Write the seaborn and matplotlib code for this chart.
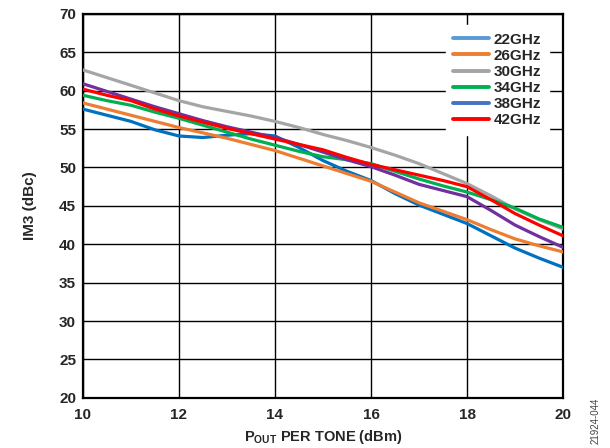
import numpy as np
import pandas as pd
import seaborn as sns
import matplotlib.pyplot as plt
from matplotlib.lines import Line2D

p_out = [10, 10.5, 11, 11.5, 12, 12.5, 13, 13.5, 14, 14.5, 15,
         15.5, 16, 16.5, 17, 17.5, 18, 18.5, 19, 19.5, 20]

im3_22 = [57.6, 56.8, 56.0, 54.9, 54.1, 53.9, 54.2, 54.4, 54.1, 52.6, 50.9,
          49.5, 48.3, 46.6, 45.1, 43.9, 42.7, 41.1, 39.5, 38.2, 37.0]
im3_26 = [58.4, 57.6, 56.8, 56.0, 55.2, 54.5, 53.8, 53.0, 52.2, 51.2, 50.2,
          49.2, 48.2, 46.8, 45.4, 44.3, 43.2, 41.9, 40.7, 39.8, 39.0]
im3_30 = [62.7, 61.7, 60.7, 59.7, 58.7, 57.9, 57.3, 56.7, 56.0, 55.2, 54.3,
          53.5, 52.6, 51.6, 50.5, 49.2, 47.9, 46.3, 44.6, 43.2, 42.0]
im3_34 = [59.4, 58.7, 58.1, 57.2, 56.4, 55.5, 54.6, 53.7, 52.9, 52.1, 51.4,
          51.0, 50.5, 49.5, 48.5, 47.6, 46.8, 45.8, 44.7, 43.3, 42.2]
im3_38 = [60.9, 59.9, 58.9, 57.9, 57.0, 56.1, 55.3, 54.6, 53.9, 53.0, 52.0,
          51.0, 50.1, 49.0, 47.8, 47.0, 46.2, 44.4, 42.5, 41.0, 39.6]
im3_42 = [60.2, 59.4, 58.7, 57.6, 56.7, 55.9, 55.1, 54.4, 53.7, 53.0, 52.3,
          51.3, 50.4, 49.7, 49.0, 48.3, 47.5, 45.8, 44.0, 42.5, 41.1]

freqs = ["22GHz", "26GHz", "30GHz", "34GHz", "38GHz", "42GHz"]
line_colors = ["#0070C0", "#ED7D31", "#A5A5A5", "#00B050", "#7030A0", "#FF0000"]
legend_colors = ["#5B9BD5", "#ED7D31", "#A5A5A5", "#00B050", "#4472C4", "#FF0000"]

series = [im3_22, im3_26, im3_30, im3_34, im3_38, im3_42]
df = pd.DataFrame({
    "p_out": p_out * len(freqs),
    "im3": sum(series, []),
    "freq": [f for f in freqs for _ in p_out],
})

sns.set_style("white")
plt.rcParams["font.family"] = ["Liberation Sans", "DejaVu Sans"]
plt.rcParams["font.weight"] = "bold"
plt.rcParams["mathtext.fontset"] = "custom"
plt.rcParams["mathtext.rm"] = "Liberation Sans:bold"
plt.rcParams["mathtext.bf"] = "Liberation Sans:bold"

fig = plt.figure(figsize=(6.1, 4.48), dpi=100)
ax = fig.add_axes([0.136, 0.112, 0.787, 0.857])

sns.lineplot(data=df, x="p_out", y="im3", hue="freq", hue_order=freqs,
             palette=dict(zip(freqs, line_colors)), linewidth=2.3,
             legend=False, ax=ax, zorder=3)

ax.set_xlim(10, 20)
ax.set_ylim(20, 70)
ax.set_xticks(range(10, 21, 2))
ax.set_yticks(range(20, 71, 5))
ax.grid(True, color="black", linewidth=1.0)
ax.set_axisbelow(True)
for s in ax.spines.values():
    s.set_color("black")
    s.set_linewidth(1.6)
ax.tick_params(length=0, labelsize=11, pad=5)
ax.tick_params(axis="x", pad=7)
for lab in ax.get_xticklabels() + ax.get_yticklabels():
    lab.set_fontweight("bold")

ax.set_xlabel(r"P$_{\mathrm{OUT}}$ PER TONE (dBm)", fontsize=10.5,
              fontweight="bold", labelpad=5)
ax.set_ylabel("IM3 (dBc)", fontsize=11, fontweight="bold", labelpad=16)

handles = [Line2D([0], [0], color=c, linewidth=2.8) for c in legend_colors]
leg = ax.legend(handles, freqs, loc="upper right", bbox_to_anchor=(0.971, 0.971),
                borderaxespad=0, frameon=True, fancybox=False, framealpha=1,
                facecolor="white", edgecolor="white", handlelength=2.3,
                handletextpad=0.35, labelspacing=0.14, borderpad=0.5,
                prop={"weight": "bold", "size": 11})
leg.set_zorder(10)

fig.text(0.977, 0.008, "21924-044", rotation=90, fontsize=7, color="#444444",
         fontweight="normal", ha="center", va="bottom")

fig.savefig("out.png", dpi=100)
